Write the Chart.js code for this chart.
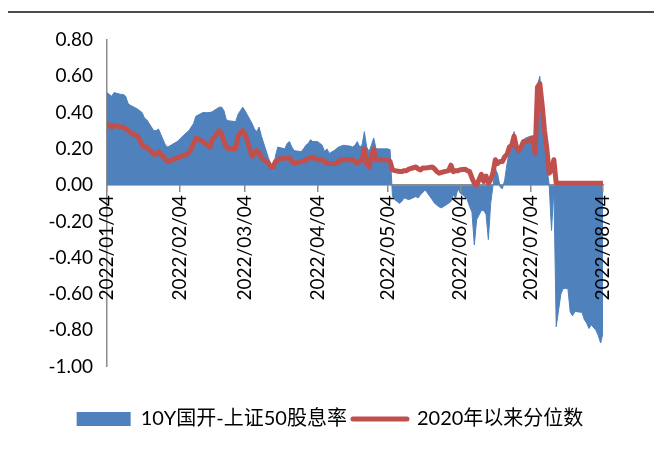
<!DOCTYPE html>
<html>
<head>
<meta charset="utf-8">
<script src="https://cdn.jsdelivr.net/npm/chart.js@4.4.1/dist/chart.umd.min.js"></script>
<style>
  html, body { margin: 0; padding: 0; background: #fff; }
  #wrap { position: relative; width: 660px; height: 455px; }
  #spreadChart { position: absolute; left: 0; top: 0; }
  #rule { position: absolute; left: 8px; top: 11px; width: 646px; height: 2px; background: #4d4d4d; }
</style>
</head>
<body>
<div id="wrap">
  <canvas id="spreadChart" width="660" height="455"></canvas>
  <div id="rule"></div>
</div>
<script>
// daily observations, 2022
const dates = [
  '1/4','1/5','1/6','1/7','1/10','1/11','1/12','1/13','1/14','1/17','1/18','1/19','1/20','1/21',
  '1/24','1/25','1/26','1/27','1/28','1/29','1/30','2/3','2/7','2/8','2/9','2/10','2/11',
  '2/14','2/15','2/16','2/17','2/18','2/21','2/22','2/23','2/24','2/25','2/28',
  '3/1','3/2','3/3','3/4','3/7','3/8','3/9','3/10','3/11','3/14','3/15','3/16','3/17','3/18',
  '3/21','3/22','3/23','3/24','3/25','3/28','3/29','3/30','3/31',
  '4/1','4/2','4/4','4/6','4/7','4/8','4/9','4/11','4/12','4/13','4/14','4/15','4/18','4/19',
  '4/20','4/21','4/22','4/23','4/24','4/25','4/26','4/27','4/28','4/29','4/30',
  '5/2','5/4','5/5','5/6','5/7','5/9','5/10','5/11','5/12','5/13','5/16','5/17','5/18','5/19',
  '5/20','5/23','5/24','5/25','5/26','5/27','5/30','5/31',
  '6/1','6/2','6/3','6/4','6/6','6/7','6/8','6/9','6/10','6/11','6/13','6/14','6/15','6/16',
  '6/17','6/18','6/19','6/20','6/21','6/22','6/23','6/24','6/25','6/26','6/27','6/28','6/29','6/30',
  '7/1','7/2','7/4','7/5','7/6','7/7','7/8','7/9','7/10','7/11','7/12','7/13','7/14','7/15',
  '7/17','7/18','7/19','7/20','7/21','7/22','7/23','7/25','7/26','7/27','7/28','7/29','7/30',
  '8/1','8/2','8/3','8/4'
];

// 10Y CDB yield minus SSE 50 dividend yield
const spread = [
  0.51,0.50,0.49,0.51,0.50,0.50,0.49,0.45,0.44,0.42,0.41,0.40,0.37,0.36,
  0.30,0.30,0.31,0.28,0.25,0.22,0.21,0.24,0.29,0.30,0.32,0.34,0.38,
  0.40,0.40,0.40,0.40,0.405,0.43,0.43,0.41,0.36,0.355,0.35,
  0.39,0.41,0.43,0.41,0.34,0.31,0.295,0.32,0.27,0.15,0.12,0.07,0.16,0.21,
  0.20,0.23,0.24,0.21,0.19,0.185,0.20,0.22,0.23,
  0.25,0.24,0.24,0.22,0.185,0.20,0.175,0.19,0.20,0.21,0.215,0.22,0.215,0.21,
  0.22,0.24,0.21,0.22,0.295,0.21,0.185,0.22,0.26,0.20,0.20,
  0.20,0.20,0.195,-0.06,-0.08,-0.10,-0.09,-0.07,-0.075,-0.08,-0.063,-0.07,-0.053,-0.04,
  -0.026,-0.08,-0.10,-0.11,-0.12,-0.125,-0.10,-0.09,
  -0.053,-0.07,-0.02,-0.044,-0.063,-0.08,-0.118,-0.15,-0.33,-0.19,-0.14,-0.14,-0.16,-0.30,
  -0.10,0.00,0.09,0.06,-0.01,-0.02,0.03,0.12,0.19,0.24,0.295,0.23,0.21,0.22,
  0.25,0.26,0.27,0.27,0.157,0.55,0.60,0.45,0.28,0.10,0.00,-0.25,-0.02,-0.78,
  -0.60,-0.57,-0.57,-0.57,-0.70,-0.72,-0.695,-0.70,-0.70,-0.74,-0.76,-0.79,-0.77,
  -0.80,-0.83,-0.87,-0.815
];

// percentile of the spread since 2020
const pctile = [
  0.34,0.33,0.32,0.33,0.32,0.32,0.31,0.30,0.29,0.27,0.25,0.22,0.21,0.21,
  0.17,0.17,0.185,0.17,0.16,0.14,0.13,0.15,0.17,0.18,0.20,0.23,0.26,
  0.24,0.23,0.22,0.21,0.25,0.30,0.28,0.24,0.21,0.20,0.20,
  0.27,0.29,0.30,0.28,0.16,0.17,0.19,0.18,0.15,0.12,0.10,0.10,0.13,0.14,
  0.15,0.15,0.15,0.13,0.12,0.13,0.13,0.14,0.145,
  0.15,0.155,0.14,0.14,0.13,0.12,0.12,0.12,0.12,0.13,0.14,0.14,0.14,0.14,
  0.13,0.12,0.13,0.14,0.20,0.12,0.10,0.155,0.20,0.14,0.14,
  0.14,0.14,0.13,0.085,0.08,0.075,0.075,0.08,0.08,0.088,0.10,0.09,0.084,0.095,
  0.094,0.10,0.09,0.075,0.066,0.07,0.08,0.11,
  0.075,0.08,0.08,0.085,0.088,0.08,0.075,0.04,0.01,0.00,0.06,0.02,0.05,0.01,
  0.03,0.07,0.14,0.12,0.13,0.13,0.157,0.17,0.21,0.22,0.27,0.21,0.19,0.21,
  0.24,0.24,0.25,0.26,0.175,0.54,0.56,0.44,0.30,0.20,0.066,0.08,0.14,0.01,
  0.01,0.01,0.01,0.01,0.01,0.01,0.01,0.01,0.01,0.01,0.01,0.01,0.01,
  0.01,0.01,0.01,0.01
];

const tickLabels = [
  '2022/01/04','2022/02/04','2022/03/04','2022/04/04',
  '2022/05/04','2022/06/04','2022/07/04','2022/08/04'
];

const DAY = 864e5;
const start = Date.UTC(2022, 0, 4);
const dayOf = (y, m, d) => (Date.UTC(y, m - 1, d) - start) / DAY;

const xs = dates.map(s => { const [m, d] = s.split('/').map(Number); return dayOf(2022, m, d); });
const tickDays = tickLabels.map(s => { const [y, m, d] = s.split('/').map(Number); return dayOf(y, m, d); });
const lastDay = tickDays[tickDays.length - 1];

const font = "Lato, 'Noto Sans CJK SC', sans-serif";
const axisGray = '#8c8c8c';
const blue = '#4f81bd';
const red = '#c0504d';

new Chart(document.getElementById('spreadChart'), {
  type: 'line',
  data: {
    datasets: [
      {
        label: '10Y国开-上证50股息率',
        data: xs.map((x, i) => ({ x, y: spread[i] })),
        xAxisID: 'x',
        fill: 'origin',
        backgroundColor: blue,
        borderColor: blue,
        borderWidth: 1,
        pointRadius: 0,
        order: 1
      },
      {
        label: '2020年以来分位数',
        data: xs.map((x, i) => ({ x, y: pctile[i] })),
        xAxisID: 'x',
        fill: false,
        backgroundColor: red,
        borderColor: red,
        borderWidth: 5,
        borderJoinStyle: 'round',
        borderCapStyle: 'round',
        pointRadius: 0,
        order: 0
      }
    ]
  },
  options: {
    responsive: false,
    animation: false,
    layout: { padding: { top: 40, right: 0, bottom: 16, left: 0 } },
    scales: {
      // zero line, drawn under the series
      x: {
        type: 'linear', min: 0, max: lastDay,
        position: { y: 0 },
        grid: { display: false },
        ticks: { display: false },
        border: { color: axisGray, width: 1.5 }
      },
      // month tick marks and labels, drawn over the area
      xl: {
        type: 'linear', axis: 'x', min: 0, max: lastDay,
        position: { y: 0 },
        border: { display: false },
        grid: { drawOnChartArea: false, tickLength: 7, color: axisGray, lineWidth: 1.5, z: 1 },
        afterBuildTicks: s => { s.ticks = tickDays.map(v => ({ value: v })); },
        ticks: {
          autoSkip: false, minRotation: 90, maxRotation: 90, padding: 3, z: 1,
          color: '#000', font: { family: font, size: 19 },
          callback: v => tickLabels[tickDays.indexOf(v)]
        }
      },
      y: {
        min: -1, max: 0.8,
        grid: { display: false, drawTicks: false },
        border: { color: axisGray, width: 1.5 },
        afterFit: s => { s.width = 107; },
        ticks: {
          stepSize: 0.2, padding: 14,
          color: '#000', font: { family: font, size: 19 },
          callback: v => Math.abs(v) < 1e-9 ? '0.00' : v.toFixed(2)
        }
      },
      // empty strip on the right of the plot
      yr: {
        type: 'linear', position: 'right',
        grid: { display: false, drawTicks: false },
        border: { display: false },
        ticks: { display: false },
        afterFit: s => { s.width = 57; }
      }
    },
    plugins: {
      tooltip: { enabled: false },
      legend: {
        position: 'bottom',
        title: { display: true, text: '', padding: { top: 22, bottom: 0 } },
        labels: {
          usePointStyle: true,
          pointStyleWidth: 54,
          boxHeight: 14,
          padding: 6,
          color: '#000',
          font: { family: font, size: 20 },
          generateLabels: chart => chart.data.datasets.map((ds, i) => ({
            text: ds.label,
            datasetIndex: i,
            fillStyle: ds.backgroundColor,
            strokeStyle: ds.borderColor,
            lineWidth: i ? 5 : 0,
            lineCap: 'round',
            pointStyle: i ? 'line' : 'rect',
            hidden: false,
            fontColor: '#000'
          }))
        }
      }
    }
  }
});
</script>
</body>
</html>
